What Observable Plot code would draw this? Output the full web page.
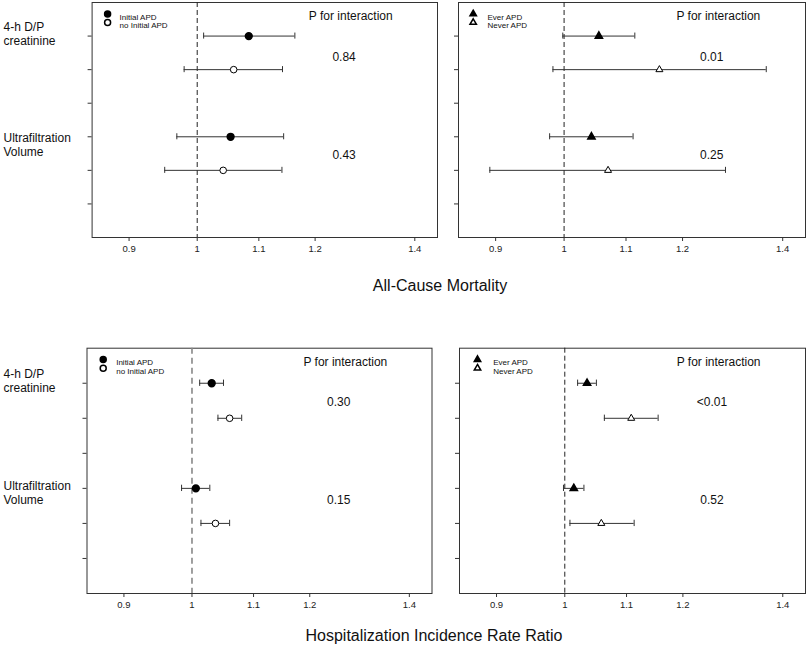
<!DOCTYPE html>
<html><head><meta charset="utf-8">
<script src="https://cdn.jsdelivr.net/npm/d3@7"></script>
<script src="https://cdn.jsdelivr.net/npm/@observablehq/plot@0.6"></script>
<style>
html,body{margin:0;padding:0;background:#fff;}
#chart{position:relative;width:807px;height:647px;background:#fff;font-family:"Liberation Sans",Arial,Helvetica,sans-serif;}
.panel{position:absolute;}
.title{position:absolute;font-size:16px;color:#111;white-space:nowrap;transform:translate(-50%,-50%);}
</style></head><body><div id="chart"></div>
<script>
// ---- data ----
const exposures = ["4-h D/P\ncreatinine", "Ultrafiltration\nVolume"];
const initialGroups = ["Initial APD", "no Initial APD"];
const everGroups = ["Ever APD", "Never APD"];
const xTicks = [0.9, 1, 1.1, 1.2, 1.4];
const outcomes = ["All-Cause Mortality", "Hospitalization Incidence Rate Ratio"];
const pLabel = "P for interaction";

// order: [creatinine grp1, creatinine grp2, UF grp1, UF grp2]
const mortInitialEst = [1.083, 1.058, 1.053, 1.041];
const mortInitialLo  = [1.010, 0.980, 0.969, 0.951];
const mortInitialHi  = [1.163, 1.141, 1.143, 1.140];
const mortInitialP   = ["0.84", "0.43"];

const mortEverEst = [1.055, 1.158, 1.043, 1.070];
const mortEverLo  = [0.998, 0.983, 0.978, 0.892];
const mortEverHi  = [1.115, 1.365, 1.112, 1.282];
const mortEverP   = ["0.01", "0.25"];

const hospInitialEst = [1.031, 1.060, 1.006, 1.037];
const hospInitialLo  = [1.012, 1.041, 0.984, 1.014];
const hospInitialHi  = [1.050, 1.080, 1.028, 1.060];
const hospInitialP   = ["0.30", "0.15"];

const hospEverEst = [1.035, 1.108, 1.014, 1.058];
const hospEverLo  = [1.020, 1.063, 0.998, 1.008];
const hospEverHi  = [1.050, 1.155, 1.030, 1.113];
const hospEverP   = ["<0.01", "0.52"];

// ---- layout ----
const panels = [
  {est: mortInitialEst, lo: mortInitialLo, hi: mortInitialHi, p: mortInitialP, groups: initialGroups, symbol: "circle",
   left: 0, top: 0, width: 445, height: 262, mL: 91.6, mR: 8, mT: 2, mB: 25,
   pY: [1.62, 4.54], labY: [0.92, 4.23], labels: true, leg: [15.5, 27.5],
   ref: {stroke: "#222", strokeDasharray: "5,3", strokeWidth: 1}},
  {est: mortEverEst, lo: mortEverLo, hi: mortEverHi, p: mortEverP, groups: everGroups, symbol: "triangle",
   left: 445, top: 0, width: 362, height: 262, mL: 13, mR: 2, mT: 2, mB: 25,
   pY: [1.62, 4.54], labels: false, leg: [14.7, 29],
   ref: {stroke: "#222", strokeDasharray: "5,3", strokeWidth: 1}},
  {est: hospInitialEst, lo: hospInitialLo, hi: hospInitialHi, p: hospInitialP, groups: initialGroups, symbol: "circle",
   left: 0, top: 320, width: 445, height: 300, mL: 86.5, mR: 13.5, mT: 27.7, mB: 27,
   pY: [1.55, 4.33], labY: [0.91, 4.11], labels: true, leg: [16.2, 29.2],
   ref: {stroke: "#888", strokeDasharray: "6,4", strokeWidth: 1.6}},
  {est: hospEverEst, lo: hospEverLo, hi: hospEverHi, p: hospEverP, groups: everGroups, symbol: "triangle",
   left: 445, top: 320, width: 362, height: 300, mL: 14, mR: 2, mT: 27.7, mB: 27,
   pY: [1.55, 4.34], labels: false, leg: [18, 33.7],
   ref: {stroke: "#222", strokeDasharray: "5,3", strokeWidth: 1}}
];

const chart = document.getElementById("chart");
const cap = 0.09;
const lineColor = "#333";

for (const P of panels) {
  const tri = P.symbol === "triangle";
  const rows = P.est.map((e, i) => ({
    row: 1 + 3 * Math.floor(i / 2) + (i % 2),
    grp: i % 2,
    est: e, lo: P.lo[i], hi: P.hi[i]
  }));
  const pData = P.p.map((v, i) => ({v, y: P.pY[i]}));
  const marks = [
    Plot.frame({stroke: "#333"}),
    Plot.ruleX([1], P.ref),
    Plot.axisX({ticks: xTicks, tickSize: 4, tickFormat: () => "", label: null, stroke: "#333"}),
    Plot.text(xTicks, {x: d => d, frameAnchor: "bottom", dy: 14, text: d => `${d}`, fontSize: 9.5, fill: "#222"}),
    Plot.axisY({ticks: [1, 2, 3, 4, 5, 6], tickFormat: () => "", tickSize: 4, label: null, stroke: "#333"}),
    Plot.ruleY(rows, {y: "row", x1: "lo", x2: "hi", stroke: lineColor}),
    Plot.ruleX(rows, {x: "lo", y1: d => d.row - cap, y2: d => d.row + cap, stroke: lineColor}),
    Plot.ruleX(rows, {x: "hi", y1: d => d.row - cap, y2: d => d.row + cap, stroke: lineColor}),
    Plot.dot(rows.filter(d => d.grp === 0), {x: "est", y: "row", symbol: P.symbol, r: tri ? 2.7 : 3.4, fill: "black", stroke: "black"}),
    Plot.dot(rows.filter(d => d.grp === 1), {x: "est", y: "row", symbol: P.symbol, r: tri ? 2.6 : 3.3, fill: "white", stroke: "black", strokeWidth: 1}),
    Plot.text([pLabel], {x: 1.268, y: 0.41, fontSize: 12, fill: "#111"}),
    Plot.text(pData, {x: 1.255, y: "y", text: "v", fontSize: 12, fill: "#111"}),
    // legend
    ...P.groups.map((g, i) => Plot.dot([g], {frameAnchor: "top-left", dx: P.leg[0], dy: 11.4 + i * 8.6, symbol: P.symbol, r: tri ? 2.4 : 3, fill: i ? "white" : "black", stroke: "black"})),
    ...P.groups.map((g, i) => Plot.text([g], {frameAnchor: "top-left", dx: P.leg[1], dy: 11.4 + i * 8.6, textAnchor: "start", fontSize: 8, fill: "#111"}))
  ];
  if (P.labels) {
    marks.push(Plot.text(exposures, {frameAnchor: "left", y: (d, i) => P.labY[i], dx: -P.mL + 3, textAnchor: "start", fontSize: 12, lineHeight: 1.2, fill: "#111"}));
  }
  const svg = Plot.plot({
    width: P.width, height: P.height,
    marginLeft: P.mL, marginRight: P.mR, marginTop: P.mT, marginBottom: P.mB,
    x: {type: "log", domain: [0.85, 1.45]},
    y: {domain: [0, 7], reverse: true},
    style: {fontFamily: "'Liberation Sans', Arial, Helvetica, sans-serif", fontSize: "9px", background: "transparent", overflow: "visible", color: "#111"},
    marks
  });
  svg.classList.add("panel");
  svg.style.left = P.left + "px";
  svg.style.top = P.top + "px";
  chart.appendChild(svg);
}

const t1 = document.createElement("div");
t1.className = "title"; t1.textContent = outcomes[0];
t1.style.left = "440px"; t1.style.top = "286px";
chart.appendChild(t1);
const t2 = document.createElement("div");
t2.className = "title"; t2.textContent = outcomes[1];
t2.style.left = "434px"; t2.style.top = "636px";
chart.appendChild(t2);
</script></body></html>
